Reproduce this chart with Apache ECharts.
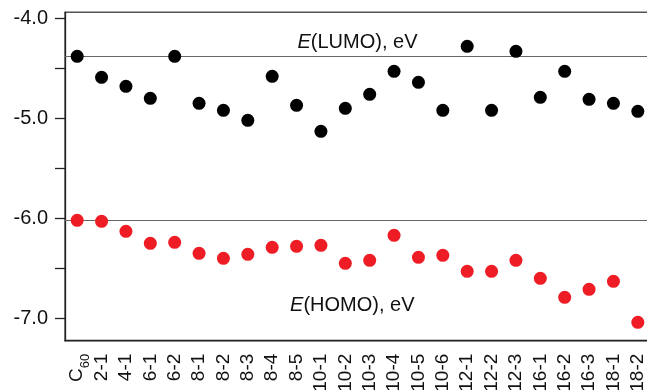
<!DOCTYPE html>
<html>
<head>
<meta charset="utf-8">
<script src="https://cdn.jsdelivr.net/npm/echarts@6/dist/echarts.min.js"></script>
<style>html,body{margin:0;padding:0;background:#fff}#c{width:647px;height:390px}</style>
</head>
<body>
<div id="c"></div>
<script>
var categories = ['C60','2-1','4-1','6-1','6-2','8-1','8-2','8-3','8-4','8-5','10-1','10-2','10-3','10-4','10-5','10-6','12-1','12-2','12-3','16-1','16-2','16-3','18-1','18-2'];
var lumo = [-4.38,-4.59,-4.68,-4.80,-4.38,-4.85,-4.92,-5.02,-4.58,-4.87,-5.13,-4.90,-4.76,-4.53,-4.64,-4.92,-4.28,-4.92,-4.33,-4.79,-4.53,-4.81,-4.85,-4.93];
var homo = [-6.02,-6.03,-6.13,-6.25,-6.24,-6.35,-6.40,-6.36,-6.29,-6.28,-6.27,-6.45,-6.42,-6.17,-6.39,-6.37,-6.53,-6.53,-6.42,-6.60,-6.79,-6.71,-6.63,-7.04];
var yTicks = [-7.0,-6.5,-6.0,-5.5,-5.0,-4.5,-4.0];
var yLabels = [-7.0,-6.0,-5.0,-4.0];
var lumoLabel = 'E(LUMO), eV';
var homoLabel = 'E(HOMO), eV';
var homoLabelPos = [11, -6.87];

var FONT = '"Liberation Sans", Arial, Helvetica, sans-serif';
var chart = echarts.init(document.getElementById('c'), null, {renderer: 'canvas'});

function richLabel(s) {
  return '{i|' + s.charAt(0) + '}{n|' + s.slice(1) + '}';
}
var labelRich = {
  i: {fontStyle: 'italic', fontSize: 20, fontFamily: FONT, color: '#111'},
  n: {fontSize: 20, fontFamily: FONT, color: '#111'}
};

chart.setOption({
  animation: false,
  backgroundColor: '#fff',
  grid: {left: 65, top: 12.3, width: 585, height: 328.4, outerBoundsMode: 'none', containLabel: false,
         show: true, borderColor: '#555', borderWidth: 1.5, backgroundColor: 'transparent'},
  xAxis: {
    type: 'category',
    data: categories,
    boundaryGap: true,
    axisLine: {lineStyle: {color: '#222', width: 1.3}},
    axisTick: {alignWithLabel: true, length: 9, lineStyle: {color: '#222', width: 1.3}},
    splitLine: {show: false},
    axisLabel: {
      interval: 0, rotate: 90, margin: 13, color: '#111', fontSize: 19, fontFamily: FONT,
      hideOverlap: false,
      formatter: function (v) {
        if (v === 'C60') return '{a|C}{s|60}';
        return '{a|' + v + '}';
      },
      rich: {
        a: {fontSize: 19, fontFamily: FONT, color: '#111', lineHeight: 22},
        s: {fontSize: 13, fontFamily: FONT, color: '#111', lineHeight: 22, verticalAlign: 'bottom', padding: [0, 0, -4, 0]}
      }
    }
  },
  yAxis: {
    type: 'value',
    min: -7.224,
    max: -3.94,
    axisLine: {show: true, lineStyle: {color: '#222', width: 1.3}},
    axisTick: {show: true, length: 10, customValues: yTicks, lineStyle: {color: '#222', width: 1.3}},
    splitLine: {show: false},
    axisLabel: {
      customValues: yLabels, margin: 17, color: '#111', fontSize: 20, fontFamily: FONT,
      formatter: function (v) { return Number(v).toFixed(1); }
    }
  },
  series: [
    {
      type: 'scatter', name: 'LUMO', data: lumo, symbolSize: 13, z: 5,
      itemStyle: {color: '#000', opacity: 1},
      markLine: {
        silent: true, symbol: 'none', z: 1,
        lineStyle: {color: '#666', width: 1.2, type: 'solid'},
        label: {show: true, position: 'insideMiddleTop', distance: 4, formatter: richLabel(lumoLabel), rich: labelRich},
        data: [{yAxis: lumo[0]}]
      }
    },
    {
      type: 'scatter', name: 'HOMO', data: homo, symbolSize: 13, z: 5,
      itemStyle: {color: '#ee1c25', opacity: 1},
      markLine: {
        silent: true, symbol: 'none', z: 1,
        lineStyle: {color: '#666', width: 1.2, type: 'solid'},
        label: {show: false},
        data: [{yAxis: homo[0]}]
      },
      markPoint: {
        silent: true,
        symbol: 'circle', symbolSize: 1,
        itemStyle: {color: 'rgba(0,0,0,0)'},
        label: {show: true, position: 'inside', offset: [7, 0], formatter: richLabel(homoLabel), rich: labelRich},
        data: [{coord: homoLabelPos}]
      }
    }
  ]
});
</script>
</body>
</html>
